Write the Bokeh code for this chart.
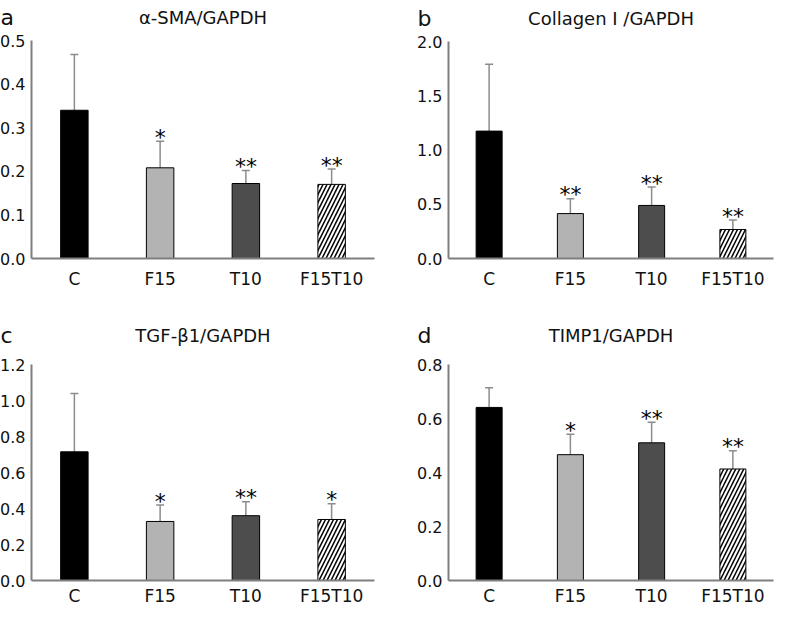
from bokeh.plotting import figure
from bokeh.layouts import gridplot
from bokeh.models import Range1d, FixedTicker, Whisker, TeeHead, ColumnDataSource
from bokeh.core.properties import value
from bokeh.embed import file_html
from bokeh.resources import INLINE

groups = ["C", "F15", "T10", "F15T10"]
bar_colors = ["#000000", "#b3b3b3", "#4d4d4d", "#ffffff"]
bar_hatch = ["", "", "", "/"]

titles = ["α-SMA/GAPDH", "Collagen I /GAPDH", "TGF-β1/GAPDH", "TIMP1/GAPDH"]
letters = ["a", "b", "c", "d"]

sma_mean = [0.340, 0.208, 0.172, 0.170]
sma_sd = [0.128, 0.061, 0.030, 0.035]
sma_stars = ["", "*", "**", "**"]
sma_ticks = [0.0, 0.1, 0.2, 0.3, 0.4, 0.5]

col_mean = [1.174, 0.414, 0.489, 0.267]
col_sd = [0.616, 0.136, 0.169, 0.087]
col_stars = ["", "**", "**", "**"]
col_ticks = [0.0, 0.5, 1.0, 1.5, 2.0]

tgf_mean = [0.715, 0.328, 0.360, 0.339]
tgf_sd = [0.324, 0.091, 0.077, 0.087]
tgf_stars = ["", "*", "**", "*"]
tgf_ticks = [0.0, 0.2, 0.4, 0.6, 0.8, 1.0, 1.2]

timp_mean = [0.641, 0.466, 0.510, 0.413]
timp_sd = [0.073, 0.076, 0.076, 0.068]
timp_stars = ["", "*", "**", "**"]
timp_ticks = [0.0, 0.2, 0.4, 0.6, 0.8]

FONT = "DejaVu Sans"
AXIS_GRAY = "#7f7f7f"
ERR_GRAY = "#8c8c8c"
TXT = "#111111"


def make_panel(letter, title, means, sds, stars, ticks, width, height,
               axis_px, right_px, top_px, zero_px, x_standoff, head_off):
    """Pixel layout inside the canvas: y axis at axis_px, last category edge at
    right_px, top tick at top_px, zero line at zero_px."""
    n = len(groups)
    ymax = ticks[-1]
    dx = n / (right_px - axis_px)
    dy = ymax / (zero_px - top_px)
    p = figure(width=width, height=height, output_backend="svg", toolbar_location=None,
               x_range=Range1d(-axis_px * dx, n + (width - right_px) * dx),
               y_range=Range1d(-(height - zero_px) * dy, ymax + top_px * dy),
               min_border=0)
    p.outline_line_color = None
    p.grid.visible = False
    p.background_fill_color = "white"
    p.border_fill_color = "white"

    xs = [i + 0.5 for i in range(n)]
    tops = [m + s for m, s in zip(means, sds)]
    src = ColumnDataSource(dict(x=xs, top=means, upper=tops, color=bar_colors,
                                hatch=bar_hatch, stars=stars))

    p.vbar(x="x", top="top", bottom=0, width=0.32, source=src, fill_color="color",
           line_color="black", line_width=1, hatch_pattern="hatch",
           hatch_color="black", hatch_scale=8, hatch_weight=1.5)

    w = Whisker(base="x", upper="upper", lower="top", source=src,
                line_color=ERR_GRAY, line_width=1.5,
                upper_head=TeeHead(size=8, line_color=ERR_GRAY, line_width=1.5),
                lower_head=None)
    p.add_layout(w)

    p.text(x="x", y="upper", text="stars", source=src, text_align="center",
           text_baseline="alphabetic", text_font=value(FONT), y_offset=-4,
           text_font_size="22px", text_color="black")

    for ax in (p.xaxis, p.yaxis):
        ax.axis_line_color = AXIS_GRAY
        ax.axis_line_width = 2
        ax.major_tick_line_color = None
        ax.minor_tick_line_color = None
        ax.major_tick_out = 0
        ax.major_tick_in = 0
        ax.major_label_text_font = FONT
        ax.major_label_text_color = TXT

    p.yaxis.ticker = FixedTicker(ticks=ticks)
    p.yaxis.major_label_overrides = {t: f"{t:.1f}" for t in ticks}
    p.yaxis.major_label_text_font_size = "16px"
    p.yaxis.major_label_standoff = 6
    p.yaxis.fixed_location = 0
    p.yaxis.bounds = (0, ymax)

    p.xaxis.ticker = FixedTicker(ticks=xs)
    p.xaxis.major_label_overrides = {x: g for x, g in zip(xs, groups)}
    p.xaxis.major_label_text_font_size = "17px"
    p.xaxis.major_label_standoff = x_standoff
    p.xaxis.fixed_location = 0
    p.xaxis.bounds = (0, n)

    p.text(x=[0], y=[ymax], text=[letter], x_offset=-31, y_offset=-head_off,
           text_font=value(FONT), text_font_size="22px", text_align="left",
           text_baseline="alphabetic", text_color=TXT)
    p.text(x=[n / 2], y=[ymax], text=[title], y_offset=-head_off,
           text_font=value(FONT), text_font_size="18px", text_align="center",
           text_baseline="middle", text_color=TXT)
    return p


pa = make_panel(letters[0], titles[0], sma_mean, sma_sd, sma_stars, sma_ticks,
                389, 292, 31, 374, 40, 258, 10, 23)
pb = make_panel(letters[1], titles[1], col_mean, col_sd, col_stars, col_ticks,
                389, 292, 59, 384, 41, 258, 10, 23)
pc = make_panel(letters[2], titles[2], tgf_mean, tgf_sd, tgf_stars, tgf_ticks,
                389, 312, 31, 374, 72, 288, 5, 29)
pd = make_panel(letters[3], titles[3], timp_mean, timp_sd, timp_stars, timp_ticks,
                389, 312, 59, 384, 72, 288, 5, 29)

layout = gridplot([[pa, pb], [pc, pd]], toolbar_location=None)

open("out.html", "w").write(file_html(layout, INLINE))
